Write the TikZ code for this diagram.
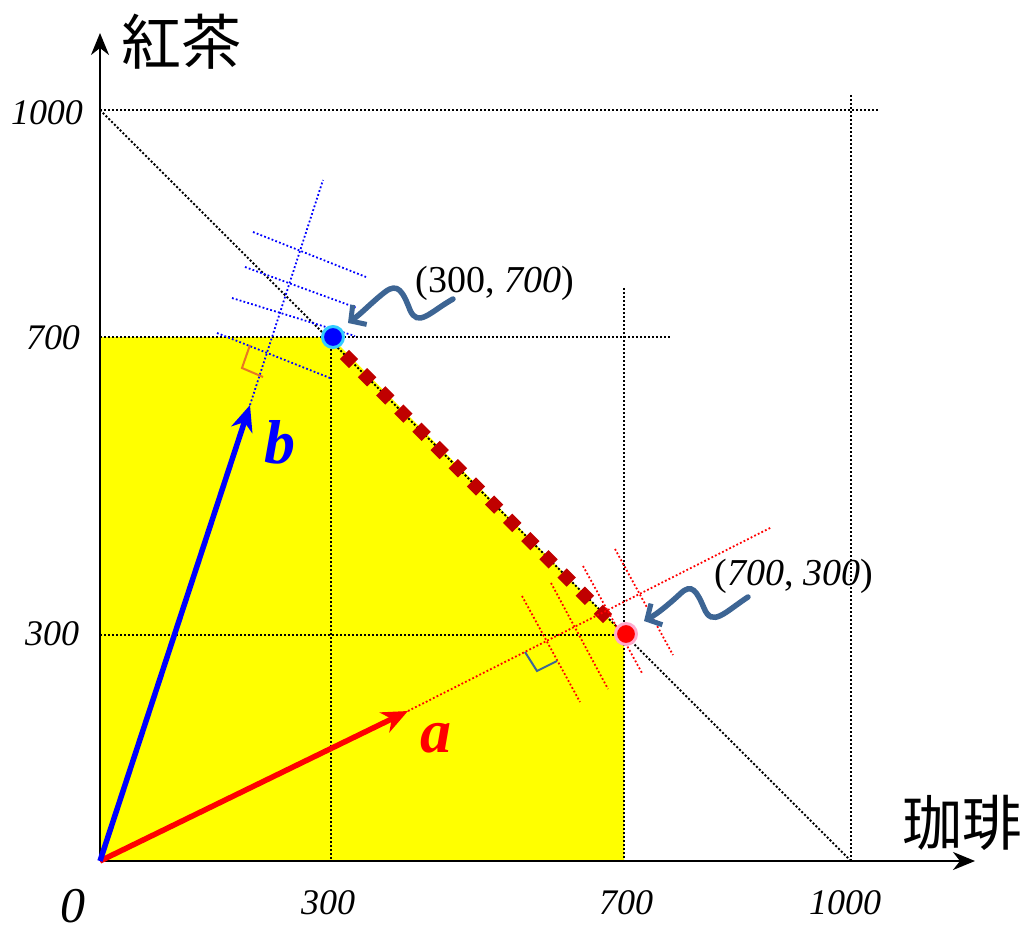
\documentclass[tikz,border=0pt]{standalone}
\usepackage{fontspec}
\setmainfont{Liberation Serif}
\newfontfamily\cjk{Noto Sans CJK JP}
\usetikzlibrary{arrows.meta}
\definecolor{steel}{HTML}{3D6594}
\definecolor{dred}{HTML}{C00000}
\definecolor{orng}{HTML}{E87722}
\definecolor{lblue}{HTML}{33CCFF}
\definecolor{pinkish}{HTML}{FFAACC}
\definecolor{yel}{RGB}{255,255,0}
\definecolor{pred}{RGB}{255,0,0}
\definecolor{pblue}{RGB}{0,0,255}
\tikzset{
  guide/.style={line width=2pt, dash pattern=on 2pt off 2pt, black},
  bdot/.style={line width=1.8pt, dash pattern=on 1.8pt off 2.2pt, pblue},
  rdot/.style={line width=1.8pt, dash pattern=on 1.8pt off 2.2pt, pred},
  axis/.style={line width=2.5pt, -{Stealth[length=22pt,width=18pt,inset=7pt]}},
  vec/.style={line width=5.5pt, -{Stealth[length=26pt,width=22pt,inset=8pt]}},
  squig/.style={steel, line width=5.5pt, line cap=round, -{Straight Barb[length=11pt,width=24pt,line width=5pt]}},
  num/.style={anchor=base, inner sep=0pt, font=\fontsize{36}{40}\selectfont\itshape},
  coord/.style={anchor=base, inner sep=0pt, font=\fontsize{38}{42}\selectfont},
  cjklab/.style={inner sep=0pt, font=\cjk\fontsize{60}{64}\selectfont},
  diam/.style={fill=dred, draw=none, minimum size=13pt, inner sep=0pt, shape=rectangle, rotate=45},
}
\begin{document}
\begin{tikzpicture}[x=1pt,y=-1pt]
\useasboundingbox (0,0) rectangle (1034,936);
% named points
\coordinate (O) at (100,861);
\coordinate (P) at (333,337);
\coordinate (Q) at (626,634);
% yellow region
\fill[yel] (100,861) -- (100,337) -- (331,337) -- (624,634) -- (624,861) -- cycle;
% guide lines
\draw[guide] (100,110) -- (878,110);
\draw[guide] (851,95) -- (851,861);
\draw[guide] (100,110) -- (851,861);
\draw[guide] (100,337) -- (670,337);
\draw[guide] (331,337) -- (331,861);
\draw[guide] (624,288) -- (624,861);
\draw[guide] (100,635) -- (624,635);
% diamonds along the segment
\foreach \i in {0,...,14} {
  \node[diam] (d\i) at ({349+\i*18.14},{359+\i*18.21}) {};
}
% blue level lines
\draw[bdot] (253,232) -- (366,277);
\draw[bdot] (245,267) -- (357,308);
\draw[bdot] (232,298) -- (355,336);
\draw[bdot] (217,333) -- (330,378);
\coordinate (bt) at (250,405);
\coordinate (bend) at (323,180);
\draw[bdot] (bt) -- (bend);
\draw[orng, line width=2pt] (250,345) -- (242,368) -- (263,377);
% red level lines
\draw[rdot] (522,596) -- (580,702);
\draw[rdot] (551,583) -- (608,689);
\draw[rdot] (583,566) -- (642,673);
\draw[rdot] (615,549) -- (673,655);
\coordinate (at) at (408,711);
\coordinate (aend) at (772,527);
\draw[rdot] (at) -- (aend);
\draw[steel, line width=2pt] (525,652) -- (537,671) -- (557,661);
% axes
\coordinate (xend) at (975,861);
\coordinate (yend) at (100,33);
\draw[axis] (O) -- (xend);
\draw[axis] (O) -- (yend);
% vectors
\draw[vec, pred] (O) -- (at);
\draw[vec, pblue] (O) -- (bt);
% points
\node[circle, fill=pblue, draw=lblue, line width=3pt, minimum size=21pt, inner sep=0pt] (pb) at (P) {};
\node[circle, fill=pred, draw=pinkish, line width=3pt, minimum size=21pt, inner sep=0pt] (pr) at (Q) {};
% squiggle arrows
\coordinate (s1) at (453,299);
\coordinate (s2) at (748,597);
\draw[squig] (s1) .. controls (430,312) and (418,328) .. (410,310)
  .. controls (403,292) and (398,282) .. (385,292)
  .. controls (372,302) and (362,313) .. (348,323);
\draw[squig] (s2) .. controls (725,612) and (712,628) .. (704,608)
  .. controls (697,592) and (692,582) .. (680,594)
  .. controls (668,605) and (657,614) .. (644,621);
% labels
\node[num] (l1000y) at (47,125) {1000};
\node[num] (l700y) at (53,349) {700};
\node[num] (l300y) at (52,645) {300};
\node[num] (l300x) at (328,914) {300};
\node[num] (l700x) at (626,914) {700};
\node[num] (l1000x) at (845,914) {1000};
\node[anchor=base, inner sep=0pt, text depth=0pt, font=\fontsize{50}{54}\selectfont\itshape] (l0) at (73,922) {0};
\node[coord] (c1) at (495,293) {(300, \textit{700})};
\node[coord] (c2) at (794,585) {(\textit{700}, \textit{300})};
\node[anchor=base, inner sep=0pt, text=pblue, font=\fontsize{62}{66}\selectfont\bfseries\itshape] (lb) at (280,463) {b};
\node[anchor=base, inner sep=0pt, text=pred, font=\fontsize{62}{66}\selectfont\bfseries\itshape] (la) at (436,752) {a};
\node[cjklab] (ty) at (181,42) {紅茶};
\node[cjklab] (tx) at (962,823) {珈琲};
\end{tikzpicture}
\end{document}
